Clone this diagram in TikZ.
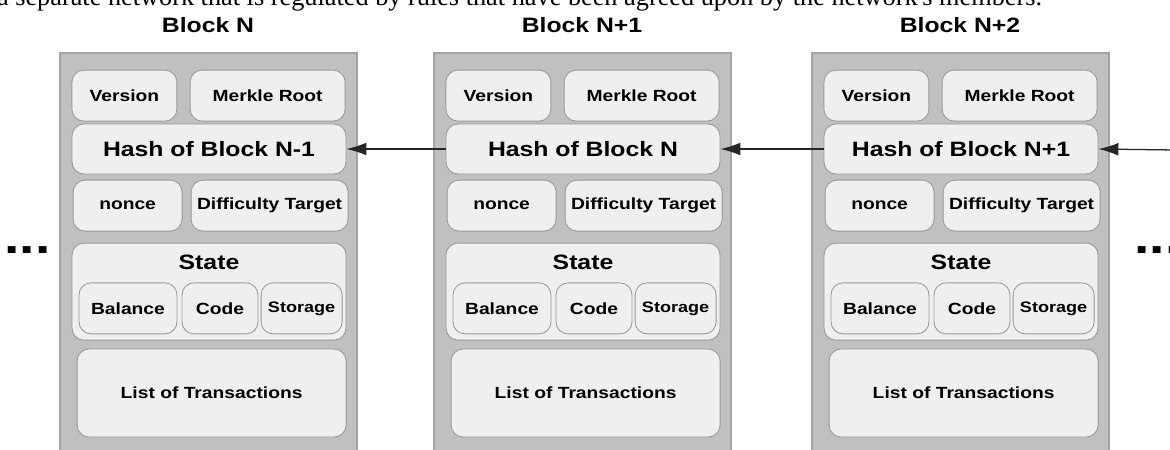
\documentclass[tikz,border=0pt]{standalone}
\usepackage{fontspec}
\setmainfont{Liberation Sans}[FakeStretch=1.19]
\newfontfamily\bodyserif{Liberation Serif}
\usepackage{tikz}
\usetikzlibrary{arrows.meta,positioning}

\definecolor{blockgray}{HTML}{C0C0C0}
\definecolor{blockedge}{HTML}{A4A4A4}
\definecolor{fieldfill}{HTML}{EFEFEF}
\definecolor{fieldedge}{HTML}{989898}

\tikzset{
  field/.style={draw=fieldedge, fill=fieldfill, line width=0.6pt, rounded corners=0.3cm,
    inner sep=0pt, minimum height=1.275cm, font=\fontsize{11.5}{13}\selectfont\bfseries},
  bigfield/.style={field, font=\fontsize{14.8}{17}\selectfont\bfseries},
  blocktitle/.style={font=\fontsize{14.8}{17}\selectfont\bfseries},
  link/.style={-{Latex[length=5mm,width=3.2mm]}, line width=0.9pt, color=black!85},
  more/.style={font=\fontsize{33}{33}\selectfont\bfseries, anchor=base}
}

\begin{document}
\begin{tikzpicture}
			\clip (0,0) rectangle (29.25,-11.225);
			
			% Running text above the chain
			\node[anchor=base west, inner sep=0pt, font=\bodyserif\fontsize{18.7}{21}\selectfont] (para) at (-0.08,-0.13)
			{a separate network that is regulated by rules that have been agreed upon by the network's members.};
			
			% The three blocks
			\foreach \i/\sx/\blk/\prev in {1/0/N/N-1, 2/9.35/N+1/N, 3/18.8/N+2/N+1} {
				\begin{scope}[shift={(1.5+\sx,0)}]
					\node[blocktitle] (title\i) at (3.7,-0.62) {Block \blk};
					\draw[fill=blockgray, draw=blockedge, line width=1.2pt] (0,-1.325) rectangle (7.425,-11.6);
					
					% Header fields
					\node[field, minimum width=2.625cm] (version\i) at (1.61,-2.39) {Version};
					\node[field, minimum width=3.875cm] (merkle\i) at (5.19,-2.39) {Merkle Root};
					\node[bigfield, minimum width=6.85cm, minimum height=1.25cm] (hash\i) at (3.725,-3.725) {Hash of Block \prev};
					\node[field, minimum width=2.725cm] (nonce\i) at (1.69,-5.14) {nonce};
					\node[field, minimum width=3.925cm] (target\i) at (5.24,-5.14) {Difficulty Target};
					
					% State with its parts
					\node[field, minimum width=6.85cm, minimum height=2.425cm] (state\i) at (3.725,-7.29) {};
					\node[blocktitle] (statelbl\i) at (3.725,-6.56) {State};
					\node[field, minimum width=2.45cm] (balance\i) at (1.7,-7.71) {Balance};
					\node[field, minimum width=1.9cm] (code\i) at (4.0,-7.71) {Code};
					\node[field, minimum width=2.025cm, font=\fontsize{10.8}{12}\selectfont\bfseries] (storage\i) at (6.04,-7.71) {Storage};
					
					% Transactions
					\node[field, minimum width=6.725cm, minimum height=2.2cm] (txlist\i) at (3.79,-9.825) {List of Transactions};
				\end{scope}
			}
			
			% Links between the blocks
			\coordinate (nextblk) at (29.4,-3.75);
			\draw[link] (hash2.west) -- (hash1.east);
			\draw[link] (hash3.west) -- (hash2.east);
			\draw[link] (nextblk) -- (hash3.east);
			
			% Chain goes on at both ends
			\node[more] (dotsleft) at (0.69,-6.33) {...};
			\node[more] (dotsright) at (28.94,-6.33) {...};
\end{tikzpicture}
\end{document}
